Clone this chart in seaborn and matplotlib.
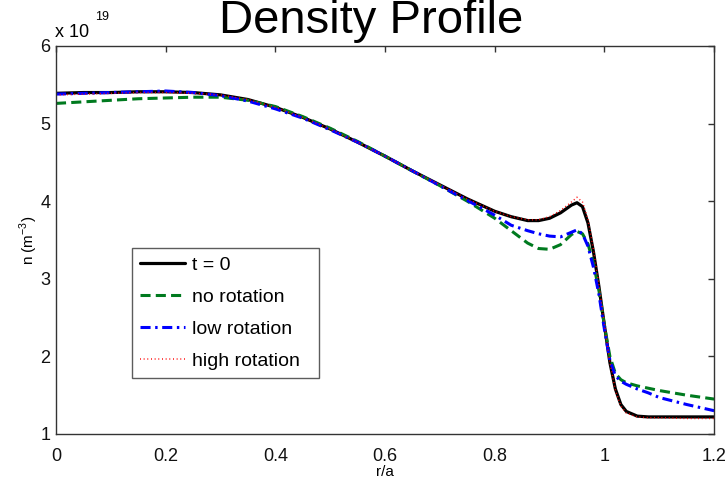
import numpy as np
import pandas as pd
import matplotlib
matplotlib.use("Agg")
import matplotlib.pyplot as plt
import seaborn as sns

r_a = [0, 0.05, 0.1, 0.15, 0.2, 0.25, 0.3, 0.35, 0.4, 0.45, 0.5, 0.55, 0.6, 0.65, 0.7,
       0.75, 0.8, 0.83, 0.86, 0.88, 0.9, 0.92, 0.94, 0.95, 0.96, 0.97, 0.98, 0.99, 1.0,
       1.01, 1.02, 1.03, 1.04, 1.06, 1.08, 1.1, 1.15, 1.2]

n_t0 = [5.39, 5.40, 5.40, 5.41, 5.41, 5.40, 5.37, 5.31, 5.21, 5.08, 4.93, 4.76, 4.58, 4.39, 4.21,
        4.03, 3.87, 3.80, 3.75, 3.75, 3.78, 3.85, 3.95, 3.98, 3.93, 3.72, 3.35, 2.90, 2.40,
        1.92, 1.58, 1.38, 1.29, 1.23, 1.22, 1.22, 1.22, 1.22]
n_none = [5.26, 5.28, 5.30, 5.32, 5.33, 5.34, 5.34, 5.30, 5.22, 5.09, 4.94, 4.77, 4.58, 4.39, 4.20,
          4.00, 3.78, 3.62, 3.46, 3.39, 3.38, 3.44, 3.57, 3.61, 3.58, 3.45, 3.20, 2.85, 2.40,
          2.00, 1.78, 1.70, 1.66, 1.62, 1.59, 1.56, 1.50, 1.45]
n_low = [5.38, 5.39, 5.40, 5.41, 5.42, 5.40, 5.36, 5.29, 5.19, 5.07, 4.92, 4.76, 4.58, 4.39, 4.20,
         4.01, 3.82, 3.69, 3.62, 3.58, 3.55, 3.54, 3.60, 3.63, 3.58, 3.42, 3.15, 2.80, 2.35,
         1.95, 1.75, 1.68, 1.64, 1.58, 1.53, 1.47, 1.38, 1.30]
n_high = [5.37, 5.38, 5.39, 5.40, 5.40, 5.39, 5.37, 5.31, 5.21, 5.08, 4.93, 4.76, 4.58, 4.39, 4.21,
          4.03, 3.87, 3.80, 3.76, 3.76, 3.80, 3.88, 3.99, 4.05, 3.99, 3.76, 3.38, 2.92, 2.42,
          1.92, 1.56, 1.36, 1.27, 1.22, 1.21, 1.21, 1.20, 1.20]

labels = ["t = 0", "no rotation", "low rotation", "high rotation  "]
colors = ["black", "#007a1f", "#0000ff", "#ff0000"]
styles = ["-", (0, (3.3, 1.7)), (0, (3.3, 1.5, 0.8, 1.5)), (0, (0.6, 1.8))]
widths = [2.3, 2.2, 2.2, 1.1]

sns.set_style("white")
plt.rcParams['font.family'] = ['Liberation Sans', 'DejaVu Sans']
plt.rcParams['mathtext.fontset'] = 'custom'
plt.rcParams['mathtext.rm'] = 'Liberation Sans'
plt.rcParams['text.color'] = 'black'
plt.rcParams['axes.labelcolor'] = 'black'

fig = plt.figure(figsize=(7.28, 4.82), dpi=100)
ax = fig.add_axes([0.0769, 0.0996, 0.904, 0.805])

for vals, lab, c, ls, lw in zip([n_t0, n_none, n_low, n_high], labels, colors, styles, widths):
    df = pd.DataFrame({"r/a": r_a, "n": vals})
    sns.lineplot(data=df, x="r/a", y="n", ax=ax, color=c, linestyle=ls, linewidth=lw,
                 label=lab, sort=False, estimator=None)

ax.set_xlim(0, 1.2)
ax.set_ylim(1, 6)
ax.set_xticks([0, 0.2, 0.4, 0.6, 0.8, 1, 1.2])
ax.set_xticklabels(["0", "0.2", "0.4", "0.6", "0.8", "1", "1.2"])
ax.set_yticks([1, 2, 3, 4, 5, 6])
ax.tick_params(direction="in", length=4.5, labelsize=13, top=True, right=True,
               colors="#333333", labelcolor="#111111", width=1)
ax.tick_params(axis="x", pad=10)
ax.tick_params(axis="y", pad=4)
for s in ax.spines.values():
    s.set_color("#333333")
    s.set_linewidth(1)
ax.set_xlabel("r/a", fontsize=11, labelpad=0)
ax.set_ylabel(r"n (m$^{-3}$)", fontsize=11, labelpad=0)
ax.set_title("Density Profile", fontsize=34, pad=9, x=(372 - 57) / 657, color="black")
fig.text(55 / 728, 1 - 37 / 482, "x 10", fontsize=13, ha="left", va="baseline")
fig.text(95 / 728, 1 - 20 / 482, "19", fontsize=9, ha="left", va="baseline")

leg = ax.legend(loc="upper left", bbox_to_anchor=(0.1157, 0.479), fontsize=14,
                frameon=True, fancybox=False, handlelength=2.3, handletextpad=0.4,
                borderpad=0.4, borderaxespad=0.0, labelspacing=0.75)
leg.get_frame().set_edgecolor("#333333")
leg.get_frame().set_linewidth(1)

fig.savefig("out.png", dpi=100)
